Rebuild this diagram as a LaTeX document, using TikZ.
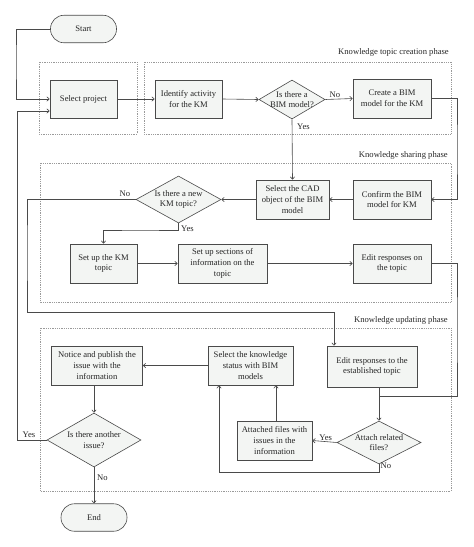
\documentclass[tikz,border=0pt]{standalone}
\usepackage{fontspec}
\setmainfont{Liberation Serif}
\usetikzlibrary{shapes.geometric,arrows.meta}
\definecolor{ln}{HTML}{4A4A4A}
\definecolor{bf}{HTML}{F3F5F3}
\definecolor{dt}{HTML}{9A9A9A}
\tikzset{
  txt/.style={font=\fontsize{8.6}{10.8}\selectfont, text=black!85},
  box/.style 2 args={rectangle, draw=ln, line width=0.6pt, fill=bf, minimum width=#1, minimum height=#2, inner sep=1pt, align=center, txt},
  term/.style={rectangle, rounded corners=13.5pt, draw=ln, line width=0.6pt, fill=bf, minimum width=66pt, minimum height=27.5pt, align=center, txt},
  dec/.style n args={3}{diamond, draw=ln, line width=0.6pt, fill=bf, minimum width=#1, minimum height=#2, inner sep=0pt, label={[align=center,txt]center:#3}},
  arr/.style={draw=ln, line width=0.6pt, -{Straight Barb[length=2.5pt,width=4.5pt]}},
  ln/.style={draw=ln, line width=0.6pt},
  frame/.style={draw=dt, line width=0.5pt, dash pattern=on 0.7pt off 1.1pt},
  lab/.style={txt, inner sep=1pt},
}
\begin{document}
\begin{tikzpicture}[x=1pt,y=-1pt]
\useasboundingbox (0,0) rectangle (474,547);
% frames
\draw[frame] (39,62) rectangle (137,134);
\draw[frame] (144,62) rectangle (451,134);
\draw[frame] (40,163) rectangle (451,302);
\draw[frame] (40,328) rectangle (451,491);
\node[lab, anchor=east] (l1) at (450,52) {Knowledge topic creation phase};
\node[lab, anchor=east] (l2) at (449,155) {Knowledge sharing phase};
\node[lab, anchor=east] (l3) at (449,320) {Knowledge updating phase};
% nodes
\node[term] (start) at (83.5,29) {Start};
\node[box={67pt}{38pt}] (sel) at (83.5,99) {Select project};
\node[box={67pt}{38pt}] (ident) at (188.5,99) {Identify activity\\for the KM};
\node[dec={66pt}{39pt}{Is there a\\BIM model?}] (bim) at (292,99.5) {};
\node[box={78pt}{39pt}] (create) at (392,98.5) {Create a BIM\\model for the KM};
\node[box={73pt}{39pt}] (cad) at (292.5,199.5) {Select the CAD\\object of the BIM\\model};
\node[box={78pt}{39pt}] (confirm) at (392,199.5) {Confirm the BIM\\model for KM};
\node[dec={85pt}{47pt}{Is there a new\\KM topic?}] (newkm) at (178.5,199.5) {};
\node[box={67pt}{39pt}] (setkm) at (103.5,263.5) {Set up the KM\\topic};
\node[box={89pt}{39pt}] (sections) at (222.5,263.5) {Set up sections of\\information on the\\topic};
\node[box={78pt}{39pt}] (editon) at (392,263.5) {Edit responses on\\the topic};
\node[box={91pt}{39pt}] (notice) at (97,365.5) {Notice and publish the\\issue with the\\information};
\node[box={85pt}{39pt}] (status) at (250.5,365.5) {Select the knowledge\\status with BIM\\models};
\node[box={90pt}{41pt}] (editest) at (372,366.5) {Edit responses to the\\established topic};
\node[dec={84pt}{43pt}{Attach related\\files?}] (attach) at (379,442.5) {};
\node[box={75pt}{39pt}] (attached) at (274.5,440.5) {Attached files with\\issues in the\\information};
\node[dec={94pt}{54pt}{Is there another\\issue?}] (another) at (94,440) {};
\node[term] (end) at (94,517.5) {End};
% helper coordinates
\coordinate (ls) at (16,60);
\coordinate (ly) at (17.5,300);
\coordinate (rr) at (457,150);
\coordinate (yk) at (140,230);
\coordinate (j) at (379,396);
\coordinate (rr2) at (457,330);
\coordinate (lk) at (27,250);
\coordinate (tk) at (334,312);
\coordinate (nb) at (219,472);
\coordinate (sx) at (276,0);
% connectors
\draw[arr] (start.west) -| (ls) |- (sel.west);
\draw[arr] (another.west) -| (ly) |- ([yshift=-12pt]sel.west);
\draw[arr] (sel.east) -- (ident.west);
\draw[arr] (ident.east) -- (bim.west);
\draw[arr] (bim.east) -- node[lab, above, pos=0.35] (tno1) {No} (create.west);
\draw[arr] (bim.south) -- (cad.north);
\node[lab, anchor=west] (tyes1) at (296,127) {Yes};
\draw[arr] (create.east) -| (rr) |- (confirm.east);
\draw[arr] (confirm.west) -- (cad.east);
\draw[arr] (cad.west) -- (newkm.east);
\draw[arr] (newkm.south) |- (yk) -| (setkm.north);
\node[lab, anchor=west] (tyes2) at (180,229) {Yes};
\draw[arr] (setkm.east) -- (sections.west);
\draw[arr] (sections.east) -- (editon.west);
\draw[ln] (editon.east) -| (rr2) |- (j);
\draw[arr] (newkm.west) -| (lk) |- (tk) -- (tk |- editest.north);
\node[lab] (tno2) at (125,194) {No};
\draw[arr] (editest.south -| attach) -- (attach.north);
\draw[arr] (attach.west) -- node[lab, above, pos=0.45] (tyes3) {Yes} (attached.east);
\draw[arr] (attached.north -| sx) -- (status.south -| sx);
\draw[arr] (attach.south) |- (nb) -- (nb |- status.south);
\node[lab, anchor=west] (tno3) at (379.5,466) {No};
\draw[arr] (status.west) -- (notice.east);
\draw[arr] (notice.south -| another.north) -- (another.north);
\node[lab] (tyes4) at (29,435) {Yes};
\draw[arr] (another.south) -- (end.north);
\node[lab, anchor=west] (tno4) at (96,478) {No};
\end{tikzpicture}
\end{document}
